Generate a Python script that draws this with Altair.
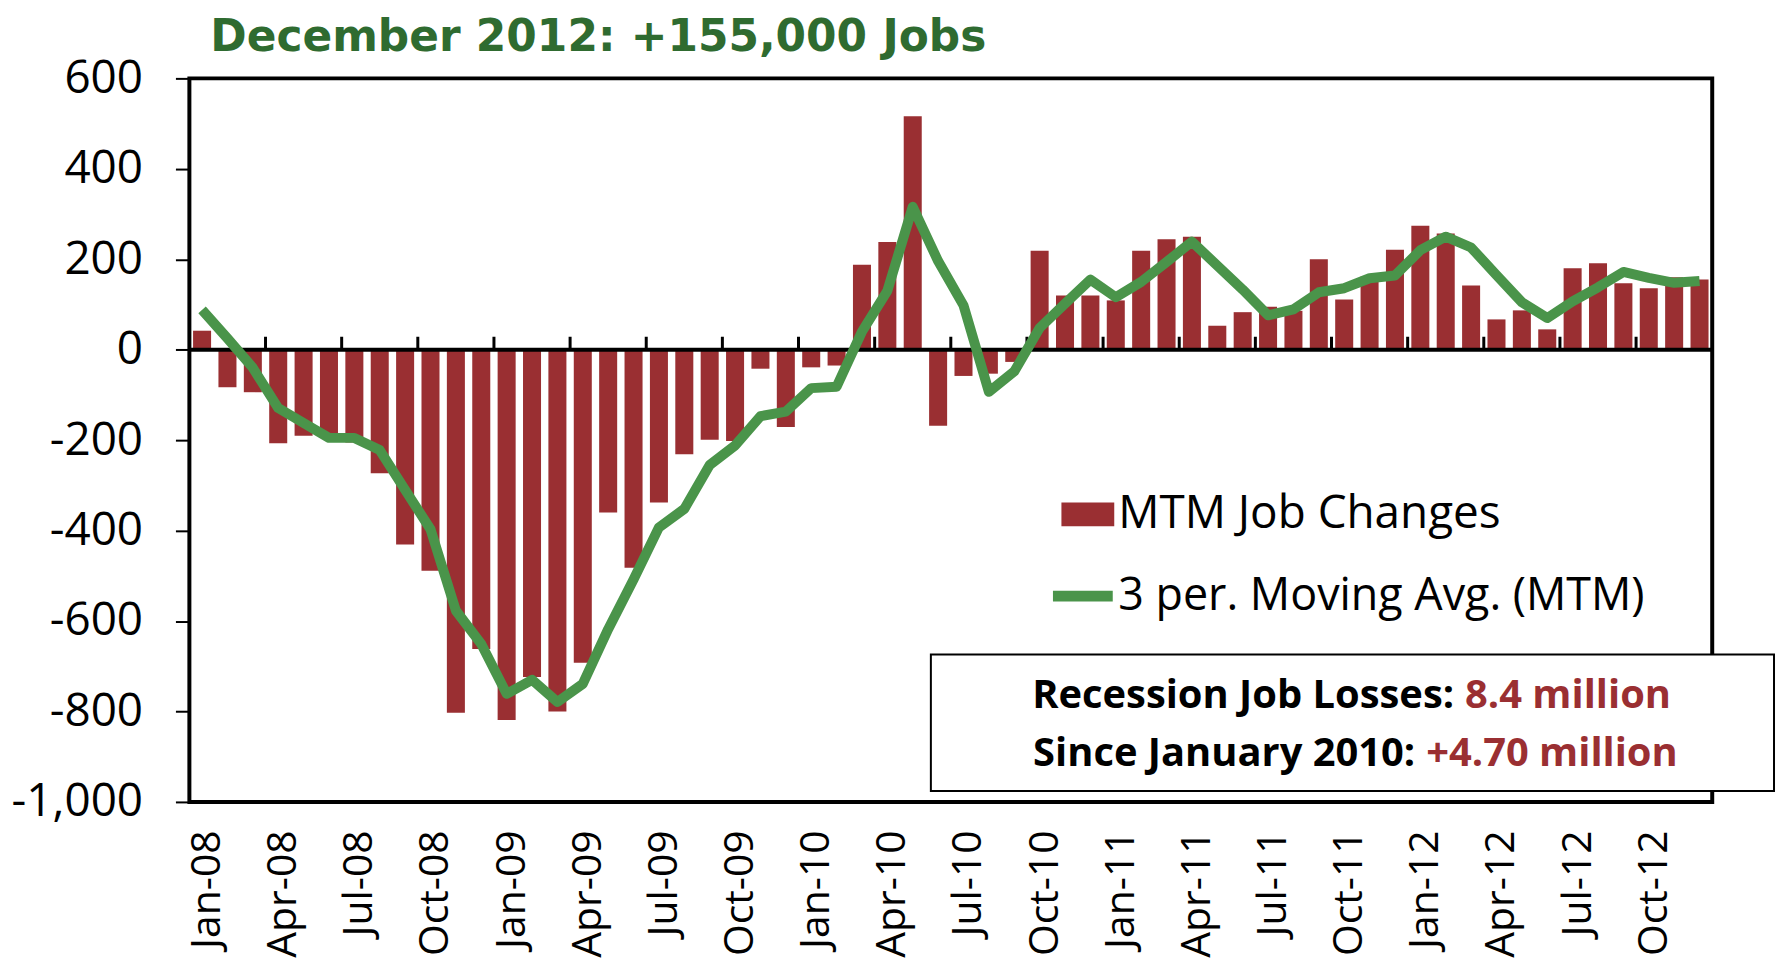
import altair as alt
import pandas as pd

# ---------------- data ----------------
month_names = ["Jan", "Feb", "Mar", "Apr", "May", "Jun",
               "Jul", "Aug", "Sep", "Oct", "Nov", "Dec"]
years = ["08", "09", "10", "11", "12"]
months = [f"{m}-{y}" for y in years for m in month_names]

mtm_job_changes = [
    42, -83, -94, -207, -190, -188, -205, -273, -431, -489,
    -803, -662, -819, -724, -800, -692, -360, -482, -338, -231,
    -199, -202, -42, -171, -39, -35, 188, 238, 516, -168,
    -58, -53, -27, 219, 120, 120, 109, 219, 244, 250,
    53, 83, 95, 86, 200, 111, 162, 221, 274, 257,
    142, 67, 87, 45, 180, 191, 147, 136, 160, 155,
]

moving_avg_3 = [
    88, 25, -40, -129, -162, -195, -195, -222, -310, -397,
    -577, -651, -761, -730, -779, -739, -618, -508, -393, -352,
    -255, -212, -147, -137, -85, -82, 40, 130, 316, 196,
    98, -93, -48, 48, 102, 155, 116, 150, 194, 239,
    186, 133, 76, 89, 127, 136, 158, 164, 220, 250,
    226, 165, 105, 70, 107, 138, 172, 159, 148, 152,
]

y_tick_values = [-1000, -800, -600, -400, -200, 0, 200, 400, 600]
x_label_months = months[0::3]
x_tick_months = months[3::3]

series_bar = ["MTM Job Changes"]
series_line = ["3 per. Moving Avg. (MTM)"]
title_text = "December 2012: +155,000 Jobs"
box_black = ["Recession Job Losses:", "Since January 2010:"]
box_red = ["8.4 million", "+4.70 million"]

# ---------------- styles ----------------
BAR = "#9A2F32"
LINE = "#4A944A"
TITLE_GREEN = "#2F6B30"
AX_FONT = "Open Sans"

df = pd.DataFrame({
    "idx": list(range(len(months))),
    "month": months,
    "mtm": mtm_job_changes,
    "mavg": moving_avg_3,
})
ticks_df = pd.DataFrame({"month": x_tick_months})
zero_df = pd.DataFrame({"zero": [0]})

x_scale = alt.Scale(domain=months, paddingInner=0, paddingOuter=0)
y_scale = alt.Scale(domain=[-1000, 600], nice=False)

x_axis = alt.Axis(
    values=x_label_months, labelAngle=270, labelAlign="right", labelBaseline="middle",
    labelFont=AX_FONT, labelFontSize=41, labelColor="black", labelPadding=28,
    labelOffset=6, ticks=False, domain=False, grid=False, title=None, labelOverlap=False,
)
y_axis = alt.Axis(
    values=y_tick_values,
    labelExpr="datum.value < 0 ? '-' + format(-datum.value, ',') : format(datum.value, ',')",
    labelFont=AX_FONT, labelFontSize=46, labelColor="black", labelPadding=33,
    tickSize=14, tickWidth=2, tickColor="black", domain=False, grid=False, title=None,
)

bars = alt.Chart(df).transform_calculate(
    bar_series="'MTM Job Changes'"
).mark_bar(width={"band": 0.71}).encode(
    x=alt.X("month:O", scale=x_scale, axis=x_axis),
    y=alt.Y("mtm:Q", scale=y_scale, axis=y_axis, stack=None),
    fill=alt.Fill(
        "bar_series:N",
        scale=alt.Scale(domain=series_bar, range=[BAR]),
        legend=alt.Legend(
            orient="none", legendX=875, legendY=411, title=None, padding=0,
            symbolType="M-1,-0.45H1V0.45H-1Z", symbolSize=2809, symbolStrokeWidth=0,
            labelFont=AX_FONT, labelFontSize=46, labelColor="black", labelOffset=4,
            labelLimit=0,
        ),
    ),
)

zero_line = alt.Chart(zero_df).mark_rule(color="black", strokeWidth=4).encode(
    y=alt.Y("zero:Q", scale=y_scale)
)

cat_ticks = alt.Chart(ticks_df).mark_rule(color="black", strokeWidth=3, y2Offset=-13).encode(
    x=alt.X("month:O", scale=x_scale, bandPosition=0),
    y=alt.datum(0),
    y2=alt.datum(0),
)

line = alt.Chart(df).transform_calculate(
    line_series="'3 per. Moving Avg. (MTM)'"
).mark_line(strokeWidth=10, strokeJoin="round").encode(
    x=alt.X("month:O", scale=x_scale),
    y=alt.Y("mavg:Q", scale=y_scale),
    order=alt.Order("idx:Q"),
    stroke=alt.Stroke(
        "line_series:N",
        scale=alt.Scale(domain=series_line, range=[LINE]),
        legend=alt.Legend(
            orient="none", legendX=861, legendY=484, title=None, padding=0,
            symbolType="stroke", symbolSize=3600, symbolStrokeWidth=11,
            labelFont=AX_FONT, labelFontSize=45, labelColor="black", labelOffset=0,
            labelLimit=0,
        ),
    ),
)

box = alt.Chart(zero_df).mark_rect(fill="white", stroke="black", strokeWidth=2).encode(
    x=alt.value(744), x2=alt.value(1590), y=alt.value(578), y2=alt.value(715)
)

def box_text(txt, color, align, xpos, ypos):
    return alt.Chart(pd.DataFrame({"t": [txt]})).mark_text(
        align=align, baseline="alphabetic", font="Open Sans", fontWeight="bold",
        fontSize=40, color=color,
    ).encode(text="t:N", x=alt.value(xpos), y=alt.value(ypos))

t1a = box_text(box_black[0], "black", "right", 1269, 632)
t1b = box_text(box_red[0], BAR, "left", 1280, 632)
t2a = box_text(box_black[1], "black", "right", 1230, 690)
t2b = box_text(box_red[1], BAR, "left", 1241, 690)

chart = alt.layer(
    bars, zero_line, cat_ticks, line, box, t1a, t1b, t2a, t2b
).resolve_scale(
    fill="independent", stroke="independent"
).properties(
    width=1528,
    height=726,
    autosize=alt.AutoSizeParams(type="none"),
    padding={"left": 182, "top": 69, "right": 65, "bottom": 158},
    title=alt.TitleParams(
        text=title_text, anchor="start", frame="group", dx=21, offset=-40,
        font="DejaVu Sans", fontSize=44, fontWeight="bold", color=TITLE_GREEN,
        baseline="alphabetic",
    ),
).configure_view(
    stroke="black", strokeWidth=4
)

chart.save("out.html", embed_options={"renderer": "svg", "actions": False})
